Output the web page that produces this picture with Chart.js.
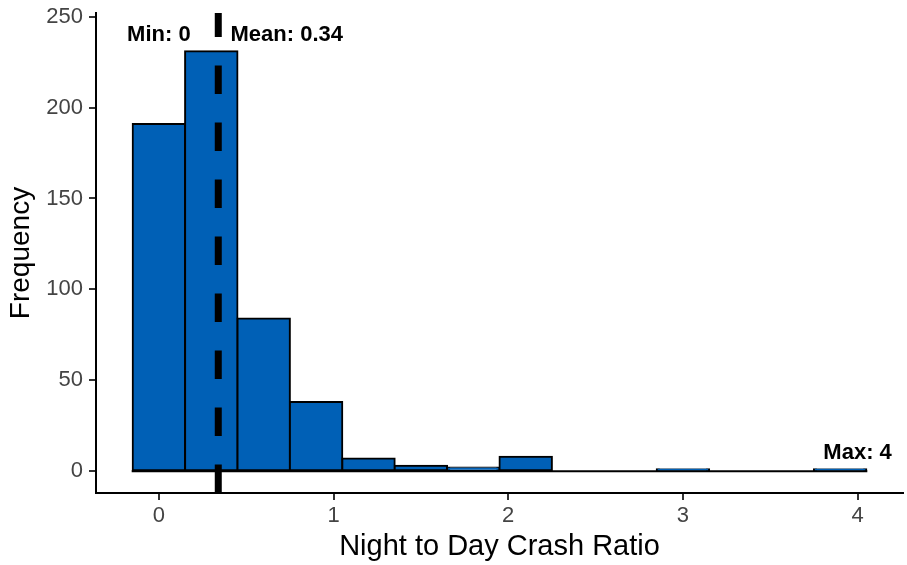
<!DOCTYPE html>
<html>
<head>
<meta charset="utf-8">
<script src="https://cdn.jsdelivr.net/npm/chart.js@4.4.1/dist/chart.umd.min.js"></script>
<style>
  html, body { margin: 0; padding: 0; background: #ffffff; }
  #wrap { width: 907px; height: 565px; }
</style>
</head>
<body>
<div id="wrap"><canvas id="hist" width="907" height="565"></canvas></div>
<script>
// Histogram of night-to-day crash ratios (bin width 0.3)
const binCenters = [0, 0.3, 0.6, 0.9, 1.2, 1.5, 1.8, 2.1, 2.4, 2.7, 3.0, 3.3, 3.6, 3.9];
const binWidth = 0.3;
const counts = [191, 231, 84, 38, 7, 3, 2, 8, 0, 0, 1, 0, 0, 1];

const xTicks = [0, 1, 2, 3, 4];
const yTicks = [0, 50, 100, 150, 200, 250];

// Summary statistics shown on the plot
const minValue = 0;
const meanValue = 0.34;
const maxValue = 4;

// Summary labels: text, x, y (data units), alignment
const statText = ['Min: ' + minValue, 'Mean: ' + meanValue, 'Max: ' + maxValue];
const statX = [minValue, meanValue + 0.07, maxValue];
const statY = [240, 240, 10];
const statAlign = ['center', 'left', 'center'];

const FONT = '"Liberation Sans", Arial, Helvetica, sans-serif';

const overlay = {
  id: 'overlay',
  afterDatasetsDraw(chart) {
    const { ctx, chartArea, scales: { x, y } } = chart;
    ctx.save();
    // baseline under all bins (zero-height bins show as an outline only)
    ctx.strokeStyle = '#000';
    ctx.lineWidth = 2;
    ctx.beginPath();
    ctx.moveTo(x.getPixelForValue(binCenters[0] - binWidth / 2) - 1, y.getPixelForValue(0));
    ctx.lineTo(x.getPixelForValue(binCenters[binCenters.length - 1] + binWidth / 2) + 1, y.getPixelForValue(0));
    ctx.stroke();

    // dashed mean line spanning the full panel height
    const mx = x.getPixelForValue(meanValue);
    ctx.lineWidth = 7;
    ctx.lineCap = 'butt';
    ctx.setLineDash([28.5, 28.5]);
    ctx.beginPath();
    ctx.moveTo(mx, chartArea.bottom);
    ctx.lineTo(mx, chartArea.top);
    ctx.stroke();
    ctx.setLineDash([]);

    // summary labels
    ctx.fillStyle = '#000';
    ctx.font = 'bold 22px ' + FONT;
    ctx.textBaseline = 'middle';
    for (let i = 0; i < statText.length; i++) {
      ctx.textAlign = statAlign[i];
      ctx.fillText(statText[i], x.getPixelForValue(statX[i]), y.getPixelForValue(statY[i]));
    }
    ctx.restore();
  }
};

new Chart(document.getElementById('hist'), {
  type: 'bar',
  data: {
    datasets: [{
      data: binCenters.map((c, i) => ({ x: c, y: counts[i] })),
      backgroundColor: '#0060B6',
      borderColor: '#000000',
      borderWidth: 2,
      borderSkipped: false,
      inflateAmount: 1,
      barPercentage: 1.0,
      categoryPercentage: 1.0
    }]
  },
  options: {
    responsive: false,
    devicePixelRatio: 1,
    animation: false,
    layout: { padding: { top: 13, right: 4, left: 0, bottom: 0 } },
    plugins: { legend: { display: false }, tooltip: { enabled: false } },
    scales: {
      x: {
        type: 'linear',
        min: -0.36,
        max: 4.26,
        offset: false,
        afterBuildTicks: s => { s.ticks = xTicks.map(v => ({ value: v })); },
        afterFit: s => { s.height = 72; s.paddingLeft = 0; s.paddingRight = 0; },
        grid: { drawOnChartArea: false, drawTicks: true, tickLength: 7, color: '#333333', lineWidth: 2, offset: false },
        border: { display: true, color: '#000000', width: 2 },
        ticks: { color: '#444444', font: { family: FONT, size: 22 }, padding: 3, maxRotation: 0 },
        title: { display: true, text: 'Night to Day Crash Ratio', color: '#000000', font: { family: FONT, size: 29 }, padding: { top: 0, bottom: 1 } }
      },
      y: {
        min: -12,
        max: 252,
        afterBuildTicks: s => { s.ticks = yTicks.map(v => ({ value: v })); },
        afterFit: s => { s.width = 96; s.paddingTop = 0; s.paddingBottom = 0; },
        grid: { drawOnChartArea: false, drawTicks: true, tickLength: 7, color: '#333333', lineWidth: 2 },
        border: { display: true, color: '#000000', width: 2 },
        ticks: { color: '#444444', font: { family: FONT, size: 22 }, padding: 6 },
        title: { display: true, text: 'Frequency', color: '#000000', font: { family: FONT, size: 28 }, padding: { top: 4, bottom: 0 } }
      }
    }
  },
  plugins: [overlay]
});
</script>
</body>
</html>
